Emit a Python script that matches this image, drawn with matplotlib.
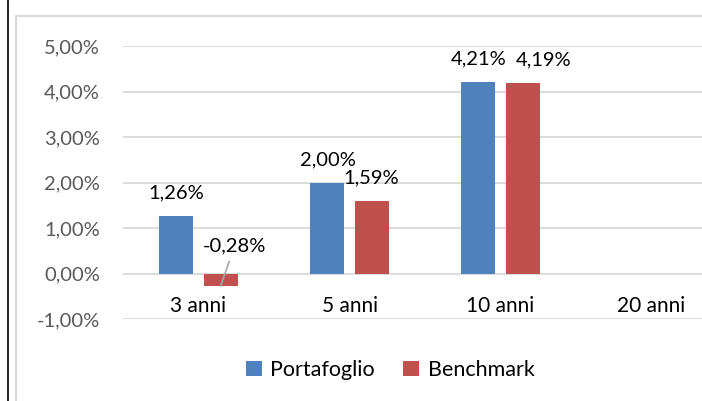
import numpy as np
import matplotlib.pyplot as plt
from matplotlib.lines import Line2D
from matplotlib.patches import Rectangle

# data
categories = ['3 anni', '5 anni', '10 anni', '20 anni']
portafoglio = [1.26, 2.00, 4.21, np.nan]
benchmark = [-0.28, 1.59, 4.19, np.nan]
yticks = [-1, 0, 1, 2, 3, 4, 5]

blue = '#4F81BD'
red = '#C0504D'
grid_c = '#D9D9D9'
font = 'Lato'
fs = 14.5

W, H = 702, 401
fig = plt.figure(figsize=(W / 100, H / 100), dpi=100)

# plot area (right side runs past the image edge, like the original crop)
left, right, top, bottom = 123, 727, 46, 319
ax = fig.add_axes([left / W, 1 - bottom / H, (right - left) / W, (bottom - top) / H])

x = np.arange(len(categories))
bw = 0.225
off = 0.146
ax.bar(x - off, portafoglio, bw, color=blue, label='Portafoglio', zorder=3)
ax.bar(x + off, benchmark, bw, color=red, label='Benchmark', zorder=3)

ax.set_xlim(-0.5, len(categories) - 0.5)
ax.set_ylim(-1, 5)
ax.set_yticks(yticks)
ax.set_yticklabels([f'{v:.2f}%'.replace('.', ',') for v in yticks],
                   fontsize=fs, color='#595959', family=font)
ax.tick_params(axis='y', length=0, pad=16.5)
ax.set_xticks([])
ax.grid(axis='y', color=grid_c, linewidth=1.3, zorder=0)
for s in ax.spines.values():
    s.set_visible(False)

# category labels sit under the zero line
for i, c in enumerate(categories):
    ax.annotate(c, xy=(i, 0), xytext=(0, -32), textcoords='offset pixels',
                ha='center', va='center', fontsize=15, family=font, color='black')

def fmt(v):
    return f'{v:.2f}%'.replace('.', ',')

# data labels
for i, v in enumerate(portafoglio):
    if not np.isnan(v):
        ax.annotate(fmt(v), xy=(i - off, v), xytext=(0, 23), textcoords='offset pixels',
                    ha='center', va='center', fontsize=fs, family=font)
for i, v in enumerate(benchmark):
    if np.isnan(v):
        continue
    if v < 0:
        ax.annotate(fmt(v), xy=(i + off, v), xytext=(14, 40), textcoords='offset pixels',
                    ha='center', va='center', fontsize=fs, family=font,
                    arrowprops=dict(arrowstyle='-', color='#A6A6A6', lw=1.2,
                                    shrinkA=3, shrinkB=0))
    else:
        dx = 21 if i == 2 else 0
        ax.annotate(fmt(v), xy=(i + off, v), xytext=(dx, 23), textcoords='offset pixels',
                    ha='center', va='center', fontsize=fs, family=font)

# legend
fig.legend(loc='center', bbox_to_anchor=(390 / W, 1 - 370 / H), ncol=2, frameon=False,
           prop={'family': font, 'size': 15.5}, handlelength=0.75, handleheight=0.75,
           handletextpad=0.4, columnspacing=1.3)

# chart frame and outer line
fig.add_artist(Rectangle((15.5 / W, -0.1), 1.2, 1 - 16 / H + 0.1, transform=fig.transFigure,
                         fill=False, edgecolor=grid_c, linewidth=1.5))
fig.add_artist(Line2D([7.5 / W, 7.5 / W], [0, 1], transform=fig.transFigure,
                      color='black', linewidth=1.2))

fig.savefig('out.png', dpi=100)
